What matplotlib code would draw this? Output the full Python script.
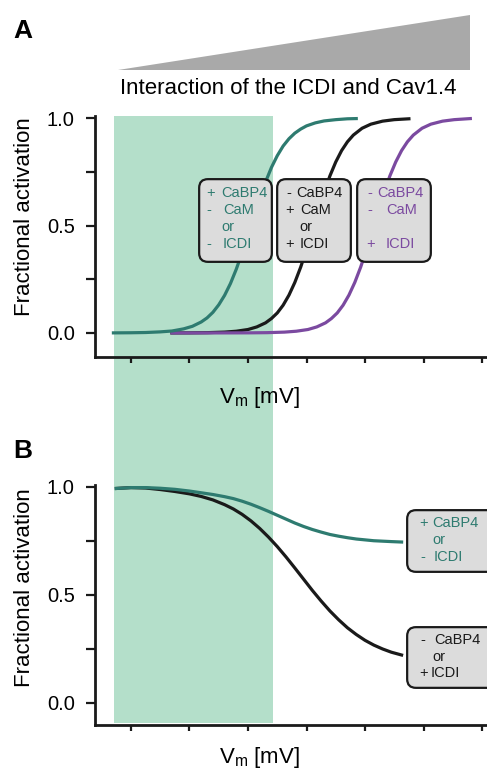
import numpy as np
import matplotlib.pyplot as plt
from matplotlib.patches import Rectangle, Polygon, FancyBboxPatch

plt.rcParams['font.family'] = ['Liberation Sans', 'DejaVu Sans']
plt.rcParams['mathtext.fontset'] = 'custom'
plt.rcParams['mathtext.rm'] = 'Liberation Sans'
plt.rcParams['mathtext.it'] = 'Liberation Sans'

teal = "#2e7b70"
purple = "#7b4aa0"
dark = "#1a1a1a"
shade = "#b4dfca"

# panel A: activation curves (Vm in mV, fraction)
vA_teal = [-66, -60, -55, -50, -46, -42, -39, -36, -34, -32, -30, -28, -26, -24, -22, -20, -18,
           -16, -14, -12, -10, -8, -6, -4, -2, 0, 3, 6, 10, 14, 17]
fA_teal = [0.0003, 0.0009, 0.002, 0.005, 0.009, 0.019, 0.031, 0.051, 0.070, 0.096, 0.131, 0.175,
           0.230, 0.297, 0.374, 0.457, 0.543, 0.626, 0.703, 0.770, 0.825, 0.870, 0.904, 0.930,
           0.949, 0.964, 0.978, 0.987, 0.993, 0.997, 0.998]
vA_black = [-46, -40, -34, -28, -24, -20, -17, -14, -12, -10, -8, -6, -4, -2, 0, 2, 4, 6, 8, 10,
            12, 14, 16, 19, 22, 26, 30, 35]
fA_black = [0.0001, 0.0004, 0.0013, 0.0039, 0.008, 0.016, 0.028, 0.047, 0.067, 0.093, 0.129,
            0.176, 0.235, 0.306, 0.388, 0.477, 0.568, 0.654, 0.731, 0.796, 0.849, 0.890, 0.921,
            0.953, 0.972, 0.986, 0.993, 0.997]
vA_purple = [-46, -30, -20, -13.5, -7.5, -3.5, 0.5, 3.5, 6.5, 8.5, 10.5, 12.5, 14.5, 16.5, 18.5,
             20.5, 22.5, 24.5, 26.5, 28.5, 30.5, 32.5, 34.5, 36.5, 39.5, 42.5, 46.5, 50.5, 56]
fA_purple = [0.0, 0.0001, 0.0004, 0.0013, 0.0039, 0.008, 0.016, 0.028, 0.047, 0.067, 0.093,
             0.129, 0.176, 0.235, 0.306, 0.388, 0.477, 0.568, 0.654, 0.731, 0.796, 0.849, 0.890,
             0.921, 0.953, 0.972, 0.986, 0.993, 0.998]

# panel B
vB = [-65, -60, -55, -50, -45, -40, -36, -32, -28, -25, -22, -19, -16, -13, -10, -7, -4, -1,
      2, 5, 8, 11, 14, 17, 20, 23, 26, 29, 32.5]
fB_teal = [0.993, 0.997, 0.997, 0.994, 0.989, 0.981, 0.973, 0.965, 0.955, 0.946, 0.934, 0.920,
           0.904, 0.887, 0.869, 0.851, 0.833, 0.817, 0.803, 0.791, 0.780, 0.772, 0.765, 0.759,
           0.755, 0.751, 0.749, 0.747, 0.745]
fB_black = [0.993, 0.997, 0.995, 0.988, 0.979, 0.968, 0.956, 0.940, 0.918, 0.898, 0.873, 0.843,
            0.808, 0.768, 0.724, 0.676, 0.625, 0.573, 0.521, 0.472, 0.426, 0.385, 0.348, 0.317,
            0.290, 0.268, 0.250, 0.235, 0.222]

xticks = [-60, -40, -20, 0, 20, 40, 60]

W, H = 487, 769
fig = plt.figure(figsize=(W / 100, H / 100), dpi=100)


def fx(x):
    return x / W


def fy(y):
    return 1 - y / H


def style_axes(ax, ylim):
    ax.set_facecolor("none")
    ax.set_xlim(-72.3, 61.7)
    ax.set_ylim(*ylim)
    for s in ["top", "right"]:
        ax.spines[s].set_visible(False)
    for s in ["left", "bottom"]:
        ax.spines[s].set_linewidth(2.0)
        ax.spines[s].set_color(dark)
    ax.set_yticks([0, 0.5, 1.0])
    ax.set_yticklabels(["0.0", "0.5", "1.0"])
    ax.set_yticks([0.25, 0.75], minor=True)
    ax.set_xticks(xticks)
    ax.set_xticklabels([])
    ax.tick_params(axis="y", which="both", length=6.5, width=1.6, color=dark,
                   labelsize=14.5, pad=8, direction="out")
    ax.tick_params(axis="x", length=4.5, width=1.6, color=dark, direction="out")


axA = fig.add_axes([fx(95), fy(357), fx(392), 241 / H])
axB = fig.add_axes([fx(95), fy(725), fx(392), 240 / H])
style_axes(axA, (-0.112, 1.01))
style_axes(axB, (-0.102, 1.009))

axA.plot(vA_black, fA_black, color=dark, lw=2.3)
axA.plot(vA_purple, fA_purple, color=purple, lw=2.3)
axA.plot(vA_teal, fA_teal, color=teal, lw=2.3)

axB.plot(vB, fB_black, color=dark, lw=2.3)
axB.plot(vB, fB_teal, color=teal, lw=2.3)

# shaded voltage range across both panels
fig.patches.append(Rectangle((fx(114), fy(723)), fx(273) - fx(114), fy(116) - fy(723),
                             transform=fig.transFigure, color=shade, lw=0, zorder=-1))

# gradient wedge
fig.patches.append(Polygon([(fx(118), fy(70)), (fx(470), fy(70)), (fx(470), fy(15))],
                           closed=True, transform=fig.transFigure, color="#a9a9a9", lw=0))
fig.text(fx(288), fy(88), "Interaction of the ICDI and Cav1.4", fontsize=16,
         ha="center", va="center")

fig.text(fx(23), fy(31), "A", fontsize=19, fontweight="bold", ha="center", va="center")
fig.text(fx(23), fy(451), "B", fontsize=19, fontweight="bold", ha="center", va="center")

fig.text(fx(25), fy(217), "Fractional activation", fontsize=16, rotation=90,
         ha="center", va="center")
fig.text(fx(25), fy(588), "Fractional activation", fontsize=16, rotation=90,
         ha="center", va="center")
fig.text(fx(259), fy(398), r"V$_\mathrm{m}$ [mV]", fontsize=16, ha="center", va="center")
fig.text(fx(259), fy(757), r"V$_\mathrm{m}$ [mV]", fontsize=16, ha="center", va="center")


def box(x0, x1, y0, y1):
    fig.patches.append(FancyBboxPatch((fx(x0 + 6), fy(y1 - 6)), fx(x1 - x0 - 12),
                                      (y1 - y0 - 12) / H,
                                      boxstyle="round,pad=0.012,rounding_size=0.018",
                                      mutation_aspect=W / H,
                                      transform=fig.transFigure, facecolor="#dcdcdc",
                                      edgecolor=dark, lw=1.6, zorder=3))


def label(x, y, s, c):
    fig.text(fx(x), fy(y), s, fontsize=10.5, color=c, ha="left", va="center", zorder=4)


# panel A boxes
box(199, 272, 179, 262)
box(277, 351, 179, 262)
box(357, 431, 179, 262)
rows = [193, 210, 227, 244]
for x, y, s in [(206, 0, "+"), (221, 0, "CaBP4"), (206, 1, "-"), (223, 1, "CaM"),
                (221, 2, "or"), (206, 3, "-"), (223, 3, "ICDI")]:
    label(x, rows[y], s, teal)
for x, y, s in [(286, 0, "-"), (296, 0, "CaBP4"), (285, 1, "+"), (300, 1, "CaM"),
                (299, 2, "or"), (285, 3, "+"), (300, 3, "ICDI")]:
    label(x, rows[y], s, dark)
for x, y, s in [(367, 0, "-"), (377, 0, "CaBP4"), (367, 1, "-"), (386, 1, "CaM"),
                (366, 3, "+"), (386, 3, "ICDI")]:
    label(x, rows[y], s, purple)

# panel B boxes
box(407, 500, 510, 572)
box(407, 500, 627, 688)
for x, y, s in [(419, 523, "+"), (432, 523, "CaBP4"), (432, 540, "or"),
                (420, 557, "-"), (434, 557, "ICDI")]:
    label(x, y, s, teal)
for x, y, s in [(420, 640, "-"), (434, 640, "CaBP4"), (432, 657, "or"),
                (419, 673, "+"), (431, 673, "ICDI")]:
    label(x, y, s, dark)

fig.savefig("out.png", dpi=100)
